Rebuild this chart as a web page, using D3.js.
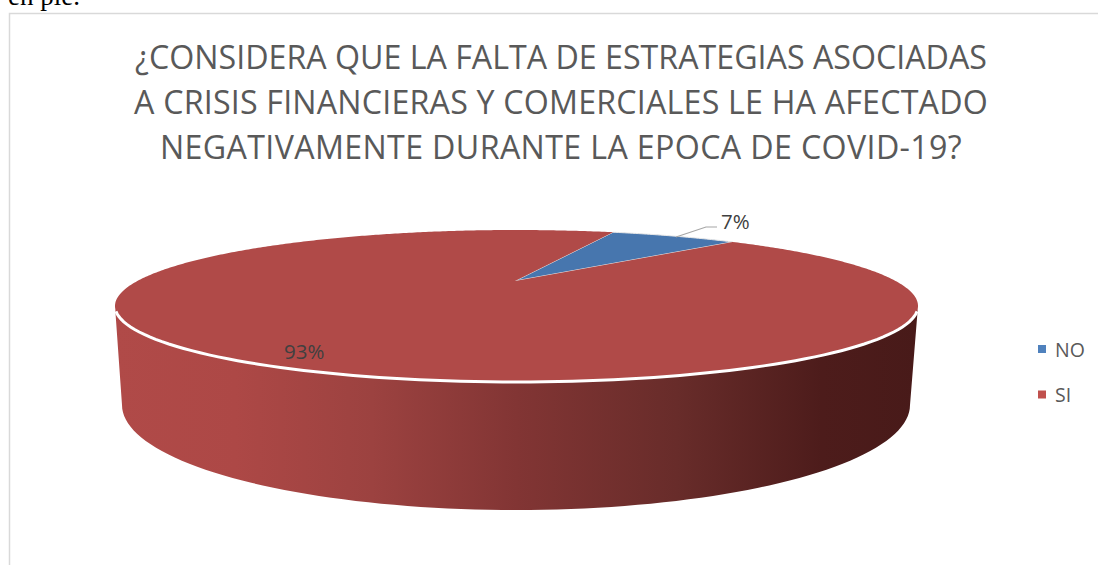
<!DOCTYPE html>
<html><head><meta charset="utf-8">
<script src="https://cdnjs.cloudflare.com/ajax/libs/d3/7.8.5/d3.min.js"></script>
<style>html,body{margin:0;padding:0;background:#fff;overflow:hidden}svg{display:block}</style>
</head><body><svg id="c" width="1098" height="565"></svg>
<script>
const categories = ["NO","SI"];
const values = [7,93];
const labels = ["7%","93%"];
const titleLines = ["¿CONSIDERA QUE LA FALTA DE ESTRATEGIAS ASOCIADAS","A CRISIS FINANCIERAS Y COMERCIALES LE HA AFECTADO","NEGATIVAMENTE DURANTE LA EPOCA DE COVID-19?"];
const titleSpacing = [0,0.2,0.36];
const faceColors = ["#4776ae","#b04a48"];
const legendColors = ["#4f81bd","#c0504d"];

const svg = d3.select("#c");
const cx = 516.5, cy = 306, rx = 401.5, ry = 76;
// perspective mapping of a disc onto the top ellipse
const apexDy = -25, k = apexDy/ry, A = rx*Math.sqrt(1-(apexDy*apexDy)/(ry*ry));
function proj(t){
  const u=Math.sin(t), v=-Math.cos(t), d=1+k*v;
  return [cx+A*u/d, cy+(ry*v+apexDy)/d];
}
const defs = svg.append("defs");
const grad = defs.append("linearGradient").attr("id","wall").attr("gradientUnits","userSpaceOnUse")
  .attr("x1",115).attr("x2",918).attr("y1",0).attr("y2",0);
[[0,"#b04a48"],[0.15,"#ad4846"],[0.32,"#9c4240"],[0.5,"#823534"],[0.7,"#682c2a"],[0.88,"#4d1c1b"],[1,"#481a19"]]
  .forEach(s=>grad.append("stop").attr("offset",s[0]).attr("stop-color",s[1]));

// frame + clipped line of the surrounding page
svg.append("text").attr("x",8).attr("y",5).attr("font-family","Liberation Serif").attr("font-size",27).attr("fill","#000").text("en pie.");
svg.append("path").attr("d","M9.5,565V13.5H1098").attr("fill","none").attr("stroke","#d9d9d9").attr("stroke-width",1.5);

// title
svg.append("g").selectAll("text").data(titleLines).join("text")
  .attr("x",561).attr("y",(d,i)=>69+i*45).attr("text-anchor","middle")
  .attr("letter-spacing",(d,i)=>titleSpacing[i])
  .attr("font-family","Open Sans").attr("font-size",32.2).attr("fill","#595959").text(d=>d);

// wall
const line = d3.line();
const bx = 516, by = 405, brx = 394, bry = 105;
const topArc = d3.range(0,181,2).map(a=>{const t=a*Math.PI/180;return [cx-rx*Math.cos(t),cy+ry*Math.sin(t)];});
const botArc = d3.range(180,-1,-2).map(a=>{const t=a*Math.PI/180;return [bx-brx*Math.cos(t),by+bry*Math.sin(t)];});
svg.append("path").attr("d",line(topArc.concat(botArc))+"Z").attr("fill","url(#wall)");

// top faces
const pie = d3.pie().sort(null).startAngle(19.5*Math.PI/180).endAngle((360+19.5)*Math.PI/180);
const arcs = pie(values);
const apex = [cx-1.5, cy+apexDy];
svg.append("g").selectAll("path").data(arcs).join("path")
  .attr("d",d=>{
    const n=Math.ceil((d.endAngle-d.startAngle)/0.01);
    const pts=d3.range(n+1).map(i=>proj(d.startAngle+(d.endAngle-d.startAngle)*i/n));
    return line([apex,...pts])+"Z";
  })
  .attr("fill",(d,i)=>faceColors[i]).attr("stroke",(d,i)=>i==0?"#e8e8e8":"none").attr("stroke-width",1);
// white rim on the front edge
svg.append("path").attr("d",line(topArc.filter(p=>p[1]>cy+3))).attr("fill","none").attr("stroke","#fff").attr("stroke-width",3);

// labels
svg.append("path").attr("d","M676,237L706,227H717").attr("fill","none").attr("stroke","#a6a6a6").attr("stroke-width",1.2);
const lab = svg.append("g").attr("font-family","Open Sans").attr("font-size",20.5).attr("fill","#404040");
lab.append("text").attr("x",721).attr("y",229).text(labels[0]);
lab.append("text").attr("x",284).attr("y",359).text(labels[1]);

// legend
const leg = svg.append("g").selectAll("g").data(categories).join("g").attr("transform",(d,i)=>`translate(1038,${345+i*45.5})`);
leg.append("rect").attr("width",8).attr("height",8).attr("fill",(d,i)=>legendColors[i]);
leg.append("text").attr("x",17).attr("y",11.5).attr("font-family","Open Sans").attr("font-size",19.5).attr("fill","#595959").text(d=>d);
</script></body></html>
